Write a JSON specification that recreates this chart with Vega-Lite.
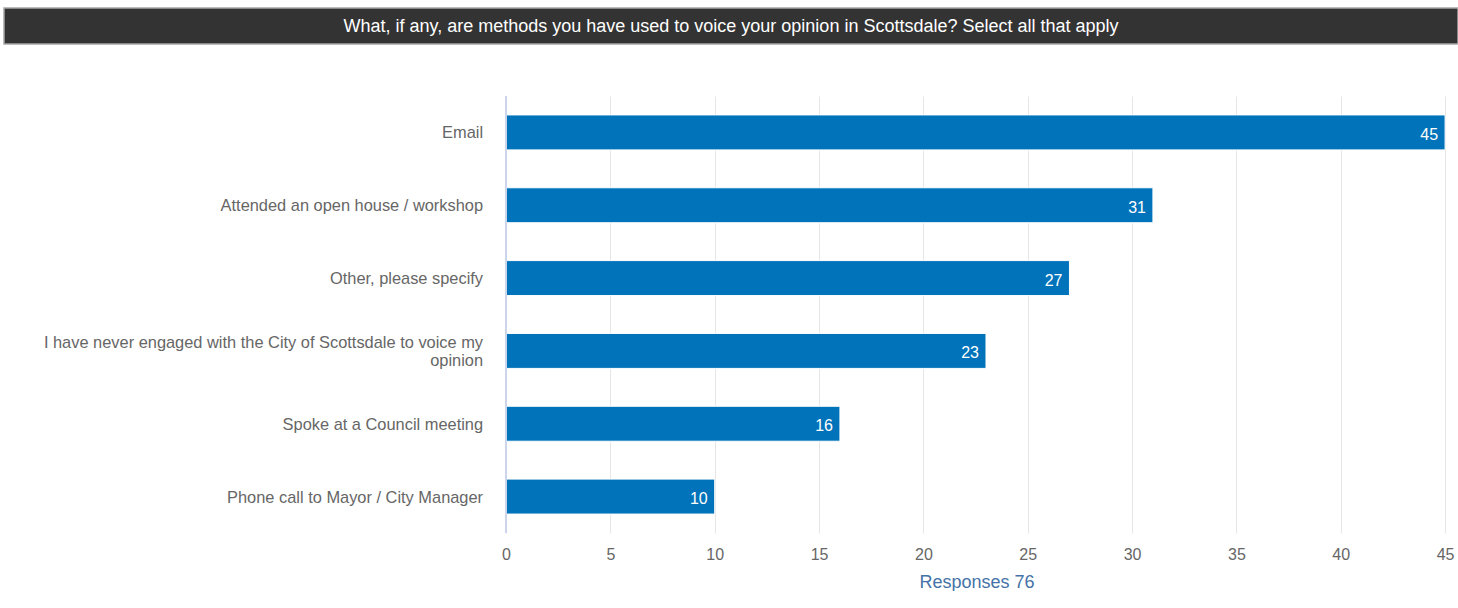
{
  "$schema": "https://vega.github.io/schema/vega-lite/v6.json",
  "padding": {"left": 3, "top": 7, "right": 0, "bottom": 0},
  "background": "white",
  "config": {
    "font": "Liberation Sans",
    "view": {"stroke": null}
  },
  "spacing": 50,
  "vconcat": [
    {
      "width": 1454,
      "height": 36,
      "view": {"fill": "#333333", "stroke": "#a6a6a6", "strokeWidth": 1.5},
      "data": {"values": [{"t": "What, if any, are methods you have used to voice your opinion in Scottsdale? Select all that apply"}]},
      "mark": {"type": "text", "color": "#ffffff", "fontSize": 18, "font": "Liberation Sans", "baseline": "middle", "align": "center", "dy": 1},
      "encoding": {"text": {"field": "t"}}
    },
    {
      "width": 1454,
      "height": 437,
      "data": {"values": [
        {"method": "Email", "label": "Email", "count": 45},
        {"method": "Attended an open house / workshop", "label": "Attended an open house / workshop", "count": 31},
        {"method": "Other, please specify", "label": "Other, please specify", "count": 27},
        {"method": "I have never engaged with the City of Scottsdale to voice my opinion", "label": "I have never engaged with the City of Scottsdale to voice my\nopinion", "count": 23},
        {"method": "Spoke at a Council meeting", "label": "Spoke at a Council meeting", "count": 16},
        {"method": "Phone call to Mayor / City Manager", "label": "Phone call to Mayor / City Manager", "count": 10}
      ]},
      "encoding": {
        "y": {
          "field": "method",
          "type": "nominal",
          "sort": {"field": "count", "order": "descending"},
          "scale": {"paddingInner": 0.52, "paddingOuter": 0.26},
          "axis": null
        }
      },
      "layer": [
        {
          "mark": {"type": "bar", "color": "#0073ba", "stroke": "#ffffff", "strokeWidth": 1},
          "encoding": {
            "x": {
              "field": "count",
              "type": "quantitative",
              "scale": {"domain": [-24.06, 45.62], "nice": false, "zero": false},
              "axis": {
                "title": "Responses 76",
                "titleColor": "#4572a7",
                "titleFontSize": 18,
                "titleFontWeight": "normal",
                "titleFont": "Liberation Sans",
                "titlePadding": 11,
                "titleX": 972.5,
                "values": [0, 5, 10, 15, 20, 25, 30, 35, 40, 45],
                "domain": false,
                "ticks": false,
                "grid": true,
                "gridColor": "#e6e6e6",
                "gridWidth": 1,
                "labelPadding": 13,
                "labelFontSize": 16,
                "labelColor": "#666666",
                "labelFont": "Liberation Sans"
              }
            },
            "x2": {"datum": 0}
          }
        },
        {
          "mark": {"type": "rule", "color": "#ccd6eb", "strokeWidth": 1},
          "encoding": {"x": {"datum": 0}, "y": null}
        },
        {
          "mark": {"type": "text", "color": "#ffffff", "align": "right", "baseline": "middle", "dx": -7, "dy": 2.5, "fontSize": 16, "font": "Liberation Sans"},
          "encoding": {
            "x": {"field": "count", "type": "quantitative"},
            "text": {"field": "count", "type": "quantitative"}
          }
        },
        {
          "transform": [{"filter": "datum.method != 'I have never engaged with the City of Scottsdale to voice my opinion'"}],
          "mark": {"type": "text", "color": "#666666", "align": "right", "baseline": "middle", "dx": -23, "dy": 1, "fontSize": 16.4, "font": "Liberation Sans"},
          "encoding": {
            "x": {"datum": 0},
            "text": {"field": "label"}
          }
        },
        {
          "transform": [{"filter": "datum.method == 'I have never engaged with the City of Scottsdale to voice my opinion'"}],
          "mark": {"type": "text", "color": "#666666", "align": "right", "baseline": "middle", "dx": -23, "dy": -8, "fontSize": 16.4, "font": "Liberation Sans", "lineBreak": "\n", "lineHeight": 18},
          "encoding": {
            "x": {"datum": 0},
            "text": {"field": "label"}
          }
        }
      ]
    }
  ]
}
